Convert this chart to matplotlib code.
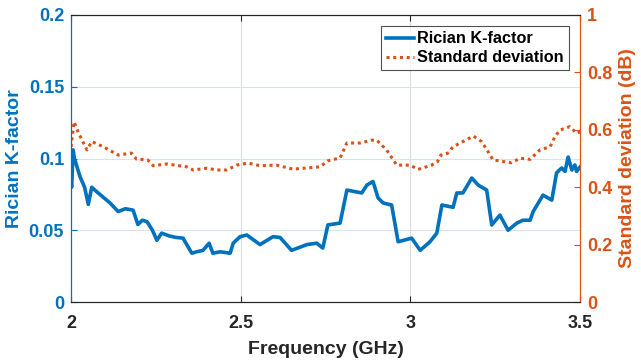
import matplotlib.pyplot as plt

# Rician K-factor (left axis) vs frequency
k_freq = [2.000, 2.002, 2.006, 2.010, 2.027, 2.040, 2.051, 2.061, 2.075, 2.095, 2.115,
          2.139, 2.160, 2.183, 2.197, 2.210, 2.224, 2.240, 2.253, 2.267, 2.290, 2.310,
          2.330, 2.356, 2.370, 2.389, 2.407, 2.418, 2.440, 2.469, 2.478, 2.498, 2.518,
          2.557, 2.595, 2.616, 2.650, 2.695, 2.724, 2.742, 2.757, 2.793, 2.813, 2.857,
          2.872, 2.890, 2.905, 2.920, 2.945, 2.964, 3.004, 3.029, 3.058, 3.078, 3.093,
          3.126, 3.137, 3.155, 3.181, 3.200, 3.225, 3.240, 3.264, 3.288, 3.314, 3.332,
          3.353, 3.362, 3.391, 3.417, 3.431, 3.446, 3.456, 3.465, 3.476, 3.485, 3.490,
          3.500]
k_factor = [0.082, 0.080, 0.106, 0.100, 0.087, 0.080, 0.068, 0.080, 0.077, 0.073, 0.069,
            0.063, 0.065, 0.064, 0.054, 0.057, 0.056, 0.050, 0.043, 0.048, 0.046, 0.045,
            0.0445, 0.034, 0.035, 0.036, 0.041, 0.034, 0.035, 0.034, 0.041, 0.0455, 0.0467,
            0.040, 0.0455, 0.045, 0.036, 0.040, 0.041, 0.0376, 0.0537, 0.055, 0.078, 0.076,
            0.0815, 0.084, 0.0725, 0.069, 0.0676, 0.042, 0.0445, 0.036, 0.042, 0.048, 0.0676,
            0.066, 0.076, 0.076, 0.0864, 0.0815, 0.078, 0.0537, 0.0606, 0.050, 0.055, 0.057,
            0.057, 0.063, 0.0745, 0.071, 0.090, 0.0934, 0.091, 0.101, 0.092, 0.0955, 0.091,
            0.094]

# Standard deviation in dB (right axis)
sd_freq = [2.000, 2.002, 2.009, 2.022, 2.047, 2.061, 2.095, 2.139, 2.178, 2.193, 2.226,
           2.242, 2.282, 2.341, 2.360, 2.400, 2.430, 2.460, 2.488, 2.521, 2.557, 2.605,
           2.654, 2.734, 2.757, 2.793, 2.813, 2.852, 2.886, 2.901, 2.930, 2.960, 2.999,
           3.023, 3.063, 3.080, 3.090, 3.110, 3.126, 3.155, 3.186, 3.210, 3.229, 3.244,
           3.298, 3.323, 3.353, 3.382, 3.412, 3.426, 3.441, 3.470, 3.490, 3.500]
std_dev = [0.540, 0.559, 0.628, 0.589, 0.530, 0.559, 0.541, 0.512, 0.519, 0.498, 0.495,
           0.475, 0.481, 0.471, 0.460, 0.466, 0.460, 0.460, 0.477, 0.484, 0.475, 0.477,
           0.463, 0.471, 0.492, 0.502, 0.554, 0.554, 0.564, 0.564, 0.530, 0.477, 0.477,
           0.462, 0.477, 0.489, 0.512, 0.518, 0.541, 0.559, 0.578, 0.559, 0.524, 0.495,
           0.485, 0.501, 0.497, 0.530, 0.541, 0.576, 0.599, 0.611, 0.588, 0.593]

blue = "#0072BD"
orange = "#D95319"
dark = "#262626"

plt.rcParams["font.family"] = ["Liberation Sans", "DejaVu Sans"]
plt.rcParams["font.weight"] = "bold"

fig = plt.figure(figsize=(6.41, 3.63), dpi=100)
ax = fig.add_axes([0.1108, 0.168, 0.794, 0.7907])
ax2 = ax.twinx()

l1, = ax.plot(k_freq, k_factor, color=blue, lw=2.6, label="Rician K-factor")
l2, = ax2.plot(sd_freq, std_dev, color=orange, lw=2.2, ls=(0, (1, 1.2)),
               label="Standard deviation")

ax.set_xlim(2, 3.5)
ax.set_ylim(0, 0.2)
ax2.set_ylim(0, 1)
ax.set_xticks([2, 2.5, 3, 3.5])
ax.set_xticklabels(["2", "2.5", "3", "3.5"])
ax.set_yticks([0, 0.05, 0.1, 0.15, 0.2])
ax.set_yticklabels(["0", "0.05", "0.1", "0.15", "0.2"])
ax2.set_yticks([0, 0.2, 0.4, 0.6, 0.8, 1])
ax2.set_yticklabels(["0", "0.2", "0.4", "0.6", "0.8", "1"])

ax.grid(True, axis="x", color="#dcdcdc", lw=0.8)
ax.grid(True, axis="y", color="#d6e4f2", lw=0.8)
ax.set_axisbelow(True)

ax.tick_params(axis="x", direction="in", colors=dark, labelsize=13, length=4, pad=9)
ax.tick_params(axis="y", direction="in", colors=blue, labelsize=13, length=4, pad=5)
ax2.tick_params(axis="y", direction="in", colors=orange, labelsize=13, length=4, pad=5)
ax.tick_params(top=True, which="both")

ax.set_xlabel("Frequency (GHz)", fontsize=14, fontweight="bold", color=dark, labelpad=7)
ax.set_ylabel("Rician K-factor", fontsize=14, fontweight="bold", color=blue, labelpad=4)
ax2.set_ylabel("Standard deviation (dB)", fontsize=14, fontweight="bold",
               color=orange, labelpad=5)

for a in (ax, ax2):
    a.spines["top"].set_color(dark)
    a.spines["bottom"].set_color(dark)
    a.spines["left"].set_color(blue)
    a.spines["right"].set_color(orange)
    for s in a.spines.values():
        s.set_linewidth(0.8)

leg = ax2.legend(handles=[l1, l2], loc="upper right", bbox_to_anchor=(0.978, 0.96),
                 frameon=True, fancybox=False, handlelength=1.75,
                 handletextpad=0.2, borderpad=0.3, labelspacing=0.25,
                 borderaxespad=0, prop={"weight": "bold", "size": 11.7})
leg.get_frame().set_edgecolor(dark)
leg.get_frame().set_linewidth(0.8)

fig.savefig("out.png", dpi=100)
